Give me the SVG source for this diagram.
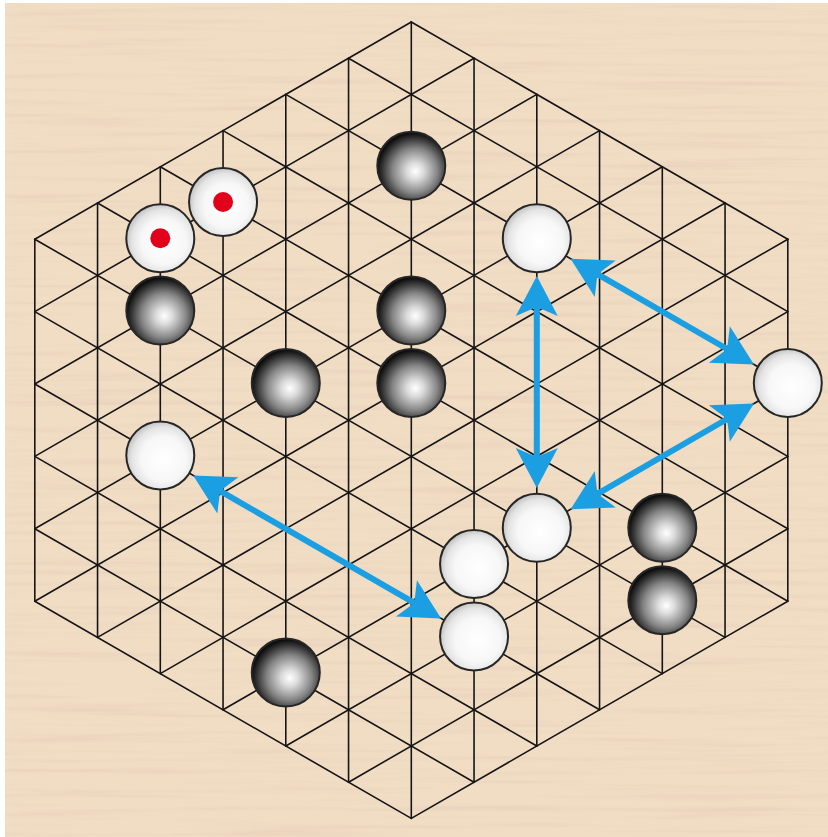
<svg xmlns="http://www.w3.org/2000/svg" width="828" height="837" viewBox="0 0 828 837">
<style>
.grid line{stroke:#151515;stroke-width:1.6;stroke-linecap:round}
.stone{stroke:#262626;stroke-width:2}
.b{fill:url(#gb)}
.w{fill:url(#gw)}
.dot{fill:#E3001B}
.arrow{stroke:#1B9FE2;stroke-width:6;fill:none;marker-start:url(#ah);marker-end:url(#ah)}
</style>
<defs>
<filter id="woodf" x="0" y="0" width="100%" height="100%">
<feTurbulence type="fractalNoise" baseFrequency="0.005 0.16" numOctaves="4" seed="7" result="n"/>
<feColorMatrix in="n" type="matrix" values="0 0 0 0 0.83  0 0 0 0 0.66  0 0 0 0 0.52  2.6 0 0 0 -1.2"/>
</filter>
<radialGradient id="gb" cx="0.55" cy="0.57" r="0.55" fx="0.56" fy="0.58">
<stop offset="0" stop-color="#ffffff"/>
<stop offset="0.22" stop-color="#dcdcdc"/>
<stop offset="0.6" stop-color="#858585"/>
<stop offset="0.87" stop-color="#333333"/>
<stop offset="1" stop-color="#0e0e0e"/>
</radialGradient>
<radialGradient id="gw" cx="0.55" cy="0.55" r="0.55">
<stop offset="0" stop-color="#ffffff"/>
<stop offset="0.6" stop-color="#f7f7f7"/>
<stop offset="0.85" stop-color="#e4e4e4"/>
<stop offset="1" stop-color="#c6c6c6"/>
</radialGradient>
<marker id="ah" markerUnits="userSpaceOnUse" viewBox="-15 -25 50 50" markerWidth="50" markerHeight="50" refX="3" refY="0" orient="auto-start-reverse" overflow="visible">
<path d="M31,0 L-9,21 L0,0 L-9,-21 Z" fill="#1B9FE2"/>
</marker>
</defs>
<rect width="828" height="837" fill="#ffffff"/>
<rect x="5" y="3" width="823" height="834" fill="#F1DDC4"/>
<rect x="5" y="3" width="823" height="834" filter="url(#woodf)"/>
<g id="board" class="grid">
<line x1="34.8" y1="239.2" x2="34.8" y2="601.2"/>
<line x1="97.55" y1="203" x2="97.55" y2="637.4"/>
<line x1="160.3" y1="166.8" x2="160.3" y2="673.6"/>
<line x1="223.05" y1="130.6" x2="223.05" y2="709.8"/>
<line x1="285.8" y1="94.4" x2="285.8" y2="746"/>
<line x1="348.55" y1="58.2" x2="348.55" y2="782.2"/>
<line x1="411.3" y1="22" x2="411.3" y2="818.4"/>
<line x1="474.05" y1="58.2" x2="474.05" y2="782.2"/>
<line x1="536.8" y1="94.4" x2="536.8" y2="746"/>
<line x1="599.55" y1="130.6" x2="599.55" y2="709.8"/>
<line x1="662.3" y1="166.8" x2="662.3" y2="673.6"/>
<line x1="725.05" y1="203" x2="725.05" y2="637.4"/>
<line x1="787.8" y1="239.2" x2="787.8" y2="601.2"/>
<line x1="34.8" y1="239.2" x2="411.3" y2="22"/>
<line x1="34.8" y1="311.6" x2="474.05" y2="58.2"/>
<line x1="34.8" y1="384" x2="536.8" y2="94.4"/>
<line x1="34.8" y1="456.4" x2="599.55" y2="130.6"/>
<line x1="34.8" y1="528.8" x2="662.3" y2="166.8"/>
<line x1="34.8" y1="601.2" x2="725.05" y2="203"/>
<line x1="97.55" y1="637.4" x2="787.8" y2="239.2"/>
<line x1="160.3" y1="673.6" x2="787.8" y2="311.6"/>
<line x1="223.05" y1="709.8" x2="787.8" y2="384"/>
<line x1="285.8" y1="746" x2="787.8" y2="456.4"/>
<line x1="348.55" y1="782.2" x2="787.8" y2="528.8"/>
<line x1="411.3" y1="818.4" x2="787.8" y2="601.2"/>
<line x1="411.3" y1="22" x2="787.8" y2="239.2"/>
<line x1="348.55" y1="58.2" x2="787.8" y2="311.6"/>
<line x1="285.8" y1="94.4" x2="787.8" y2="384"/>
<line x1="223.05" y1="130.6" x2="787.8" y2="456.4"/>
<line x1="160.3" y1="166.8" x2="787.8" y2="528.8"/>
<line x1="97.55" y1="203" x2="787.8" y2="601.2"/>
<line x1="34.8" y1="239.2" x2="725.05" y2="637.4"/>
<line x1="34.8" y1="311.6" x2="662.3" y2="673.6"/>
<line x1="34.8" y1="384" x2="599.55" y2="709.8"/>
<line x1="34.8" y1="456.4" x2="536.8" y2="746"/>
<line x1="34.8" y1="528.8" x2="474.05" y2="782.2"/>
<line x1="34.8" y1="601.2" x2="411.3" y2="818.4"/>
</g>
<g id="stones">
<g id="black-0-4"><circle class="stone b" cx="411.3" cy="165.8" r="34"/></g>
<g id="black-m4-8"><circle class="stone b" cx="160.3" cy="310.6" r="34"/></g>
<g id="black-m2-10"><circle class="stone b" cx="285.8" cy="383" r="34"/></g>
<g id="black-0-8"><circle class="stone b" cx="411.3" cy="310.6" r="34"/></g>
<g id="black-0-10"><circle class="stone b" cx="411.3" cy="383" r="34"/></g>
<g id="black-4-14"><circle class="stone b" cx="662.3" cy="527.8" r="34"/></g>
<g id="black-4-16"><circle class="stone b" cx="662.3" cy="600.2" r="34"/></g>
<g id="black-m2-18"><circle class="stone b" cx="285.8" cy="672.6" r="34"/></g>
<g id="white-m3-5"><circle class="stone w" cx="223.05" cy="202" r="34"/><circle class="dot" cx="223.05" cy="202" r="10"/></g>
<g id="white-m4-6"><circle class="stone w" cx="160.3" cy="238.2" r="34"/><circle class="dot" cx="160.3" cy="238.2" r="10"/></g>
<g id="white-2-6"><circle class="stone w" cx="536.8" cy="238.2" r="34"/></g>
<g id="white-6-10"><circle class="stone w" cx="787.8" cy="383" r="34"/></g>
<g id="white-m4-12"><circle class="stone w" cx="160.3" cy="455.4" r="34"/></g>
<g id="white-2-14"><circle class="stone w" cx="536.8" cy="527.8" r="34"/></g>
<g id="white-1-15"><circle class="stone w" cx="474.05" cy="564" r="34"/></g>
<g id="white-1-17"><circle class="stone w" cx="474.05" cy="636.4" r="34"/></g>
</g>
<g id="connectors">
<line class="arrow" x1="536.8" y1="304" x2="536.8" y2="460"/>
<line class="arrow" x1="594.85" y1="272.7" x2="729.75" y2="350.5"/>
<line class="arrow" x1="729.75" y1="417.5" x2="594.85" y2="495.3"/>
<line class="arrow" x1="217.45" y1="489.4" x2="416.85" y2="604.4"/>
</g>
</svg>
